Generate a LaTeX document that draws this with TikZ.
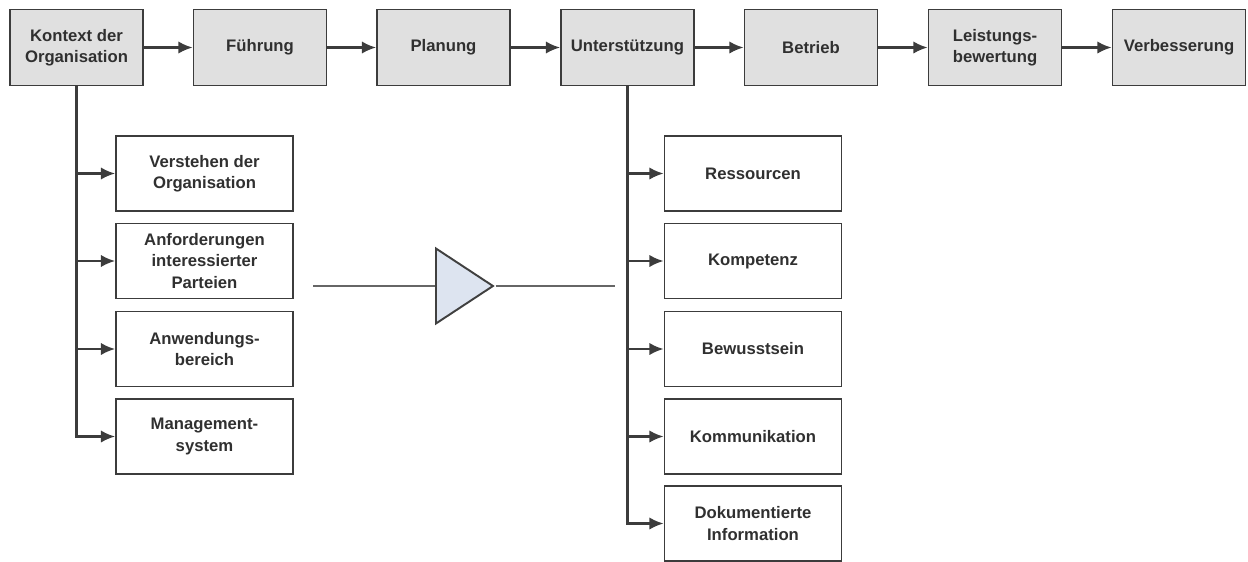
\documentclass[tikz,border=0pt]{standalone}
\usepackage{fontspec}
\setmainfont{Liberation Sans}
\usepackage{tikz}
\usetikzlibrary{arrows.meta, positioning, shapes.geometric}
\usepackage{xcolor}
\definecolor{boxgray}{HTML}{E0E0E0}
\definecolor{linegray}{HTML}{3C3C3C}
\definecolor{txtgray}{HTML}{303030}
\definecolor{trifill}{HTML}{DDE4F0}

\begin{document}
\begin{tikzpicture}[
  clause/.style={rectangle, draw=linegray, line width=1.1pt, fill=boxgray,
                 minimum width=2.66cm, minimum height=1.52cm, inner sep=1pt,
                 font=\fontsize{9.5}{12}\selectfont\bfseries, text=txtgray, align=center},
  sub/.style={rectangle, draw=linegray, line width=1.1pt, fill=white,
              minimum width=3.54cm, minimum height=1.5cm, inner sep=1pt,
              font=\fontsize{9.5}{12}\selectfont\bfseries, text=txtgray, align=center},
  arrow/.style={-{Latex[length=8pt, width=7pt]}, line width=1.2pt, linegray},
  plain/.style={line width=1.1pt, black!60}
]
  \useasboundingbox (0,0) rectangle (24.96,-11.22);

  % main clauses
  \node[clause] (kontext)  at (1.53,-0.95)  {Kontext der\\Organisation};
  \node[clause] (fuehrung) at (5.20,-0.95)  {Führung};
  \node[clause] (planung)  at (8.87,-0.95)  {Planung};
  \node[clause] (unterst)  at (12.55,-0.95) {Unterstützung};
  \node[clause] (betrieb)  at (16.22,-0.95) {Betrieb};
  \node[clause] (leistung) at (19.90,-0.95) {Leistungs-\\bewertung};
  \node[clause] (verbess)  at (23.58,-0.95) {Verbesserung};

  \draw[arrow] (kontext)  -- (fuehrung);
  \draw[arrow] (fuehrung) -- (planung);
  \draw[arrow] (planung)  -- (unterst);
  \draw[arrow] (unterst)  -- (betrieb);
  \draw[arrow] (betrieb)  -- (leistung);
  \draw[arrow] (leistung) -- (verbess);

  % Kontext der Organisation
  \node[sub] (verstehen) at (4.09,-3.47) {Verstehen der\\Organisation};
  \node[sub] (anford)    at (4.09,-5.22) {Anforderungen\\interessierter\\Parteien};
  \node[sub] (anwend)    at (4.09,-6.98) {Anwendungs-\\bereich};
  \node[sub] (mgmt)      at (4.09,-8.73) {Management-\\system};

  \foreach \s in {verstehen, anford, anwend, mgmt}
    \draw[arrow] (kontext.south) |- (\s.west);

  % Unterstuetzung
  \node[sub] (ress)  at (15.06,-3.47)  {Ressourcen};
  \node[sub] (komp)  at (15.06,-5.22)  {Kompetenz};
  \node[sub] (bew)   at (15.06,-6.98)  {Bewusstsein};
  \node[sub] (komm)  at (15.06,-8.73)  {Kommunikation};
  \node[sub] (doku)  at (15.06,-10.47) {Dokumentierte\\Information};

  \foreach \s in {ress, komp, bew, komm, doku}
    \draw[arrow] (unterst.south) |- (\s.west);

  % triangle between the columns
  \node[isosceles triangle, isosceles triangle stretches, draw=black!75,
        line width=1.1pt, fill=trifill, minimum width=1.5cm,
        minimum height=1.14cm, inner sep=0pt, anchor=west] (tri) at (8.70,-5.72) {};
  \coordinate (lfree) at (6.26,-5.72);
  \coordinate (rfree) at (12.30,-5.72);
  \draw[plain] (lfree) -- (tri.west);
  \draw[plain] (tri.east) -- (rfree);
\end{tikzpicture}
\end{document}
